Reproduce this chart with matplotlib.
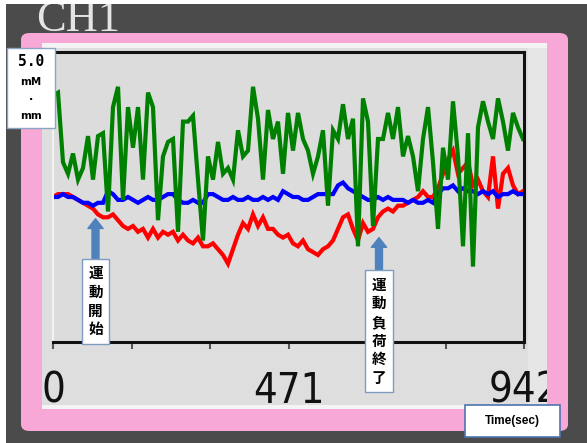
import numpy as np
import matplotlib
matplotlib.use("Agg")
import matplotlib.pyplot as plt
from matplotlib.patches import Rectangle, FancyBboxPatch
from matplotlib import font_manager as fm

# ---------------- data ----------------
time_sec = np.arange(0, 950, 10)

green_vals = [3.5, 3.6, 1.2, 0.8, 1.5, 0.6, 1.0, 2.1, 0.6, 2.1,
              2.2, -0.5, 3.1, 3.8, -0.1, 3.1, 1.7, 3.1, 0.6, 3.6,
              3.1, -0.8, 1.4, 1.9, 2.0, -1.2, 2.6, 2.6, 2.8, 0.6,
              -1.5, 1.4, 0.6, 1.9, 0.8, 1.0, 0.6, 2.3, 1.4, 1.6,
              3.8, 2.7, 0.6, 3.0, 2.0, 2.6, 0.8, 2.9, 1.6, 2.9,
              2.0, 1.6, 0.8, 1.4, 2.3, -0.3, 2.3, 2.0, 3.2, 2.0,
              2.7, -1.7, 3.4, 2.6, -1.0, 2.0, 2.0, 2.9, 2.0, 3.1,
              1.4, 2.1, 1.4, 0.2, 2.0, 3.1, 1.2, -1.1, 1.7, 0.6,
              3.3, 1.4, -1.7, 2.2, -2.4, 2.4, 3.3, 2.6, 2.0, 3.4,
              2.6, 1.6, 2.9, 2.4, 2.0]

red_vals = [0.0, 0.1, 0.1, 0.1, 0.0, -0.1, -0.2, -0.3, -0.4, -0.6,
            -0.7, -0.7, -0.6, -0.8, -1.0, -1.1, -1.0, -1.2, -1.1, -1.4,
            -1.1, -1.4, -1.2, -1.3, -1.2, -1.5, -1.3, -1.5, -1.6, -1.4,
            -1.7, -1.7, -1.6, -1.8, -2.0, -2.3, -1.8, -1.3, -0.9, -1.1,
            -0.6, -1.0, -0.7, -1.1, -1.1, -1.3, -1.4, -1.3, -1.6, -1.7,
            -1.5, -1.8, -1.9, -2.0, -1.8, -1.7, -1.5, -1.1, -0.7, -0.6,
            -1.1, -1.5, -0.9, -1.2, -1.1, -0.7, -0.5, -0.4, -0.5, -0.3,
            -0.3, -0.2, -0.1, 0.0, 0.2, 0.0, 0.0, 0.3, 0.8, 1.3,
            1.6, 0.8, 1.0, 1.2, 0.4, 0.6, 0.2, 0.0, 1.4, -0.4,
            0.8, 1.0, 0.4, 0.1, 0.2]

blue_vals = [0.0, 0.0, 0.1, 0.0, 0.0, -0.1, -0.2, -0.2, -0.3, -0.2,
             -0.2, 0.2, 0.1, -0.1, -0.1, 0.0, -0.1, -0.2, -0.1, 0.0,
             -0.1, -0.1, 0.0, 0.1, 0.1, -0.1, -0.2, -0.2, -0.1, -0.2,
             -0.2, 0.1, 0.1, 0.0, -0.1, -0.1, 0.0, -0.1, -0.1, 0.0,
             -0.1, -0.1, 0.0, -0.1, 0.0, -0.1, 0.2, 0.1, 0.0, 0.0,
             -0.1, -0.1, 0.0, 0.1, 0.1, 0.1, 0.1, 0.4, 0.5, 0.3,
             0.2, 0.1, 0.0, -0.1, -0.1, 0.0, -0.1, 0.0, -0.1, -0.1,
             -0.1, -0.2, -0.1, -0.2, -0.2, -0.1, -0.2, 0.1, 0.3, 0.3,
             0.4, 0.2, 0.3, 0.2, 0.2, 0.1, 0.2, 0.1, 0.2, 0.0,
             0.1, 0.1, 0.2, 0.1, 0.1]

xtick_pos = [0, 157, 314, 471, 628, 785, 942]
xtick_labels = ["0", "", "", "471", "", "", "942"]

event_times = [85, 652]
event_labels = ["運動開始", "運動負荷終了"]

# ---------------- fonts ----------------
def has_condensed(family):
    try:
        p = fm.findfont(fm.FontProperties(family=family, stretch="condensed"),
                        fallback_to_default=False)
        return "ondensed" in p or "arrow" in p
    except Exception:
        return False


if has_condensed("DejaVu Sans"):
    tick_font = dict(family="DejaVu Sans", stretch="condensed", size=30)
elif has_condensed("Liberation Sans"):
    tick_font = dict(family="Liberation Sans", stretch="condensed", size=30)
else:
    tick_font = dict(family="Liberation Sans", stretch="normal", size=27)

# ---------------- figure ----------------
W, H = 587, 443
fig = plt.figure(figsize=(W / 100, H / 100), dpi=100)
fig.patch.set_facecolor("#4b4b4b")


def fx(x):
    return x / W


def fy(y):
    return 1 - y / H


def frect(x0, y0, x1, y1, **kw):
    r = Rectangle((fx(x0), fy(y1)), (x1 - x0) / W, (y1 - y0) / H,
                  transform=fig.transFigure, **kw)
    fig.add_artist(r)
    return r


# CH1 label (top clipped by white margin)
fig.text(fx(36), fy(31), "CH1", ha="left", va="baseline", color="#e4e4e4",
         fontsize=32, family=["Liberation Serif", "DejaVu Serif"], zorder=5)

# white margins top / left
frect(0, 0, W, 4, fc="white", ec="none", zorder=10)
frect(0, 0, 6, H, fc="white", ec="none", zorder=10)

# pink frame
pink = "#f7a8d6"
fb = FancyBboxPatch((fx(21), fy(431)), (568 - 21) / W, (431 - 33) / H,
                    boxstyle="round,pad=0,rounding_size=0.015",
                    transform=fig.transFigure, fc=pink, ec="none", zorder=-3)
fig.add_artist(fb)
# gray panel
frect(42, 43, 547, 409, fc="#dedede", ec="none", zorder=-2)
frect(42, 43, 547, 48, fc="#f4f4f4", ec="none", zorder=-1)
frect(42, 405, 547, 409, fc="#f4f4f4", ec="none", zorder=-1)
frect(528, 48, 547, 405, fc="#e6e6e6", ec="none", zorder=-1)
# pink strip on the right drawn above axes (clips the "942" label)
frect(547, 40, 568, 425, fc=pink, ec="none", zorder=3)

# ---------------- axes ----------------
ax = fig.add_axes([fx(53), fy(342), (524 - 53) / W, (342 - 52) / H])
ax.set_facecolor("#dcdcdc")
ax.plot(time_sec, red_vals, color="#ff0000", lw=3.0, solid_joinstyle="miter")
ax.plot(time_sec, blue_vals, color="#0000ff", lw=3.0, solid_joinstyle="miter")
ax.plot(time_sec, green_vals, color="#008000", lw=3.0, solid_joinstyle="miter")
ax.set_xlim(0, 942)
ax.set_ylim(-5, 5)
ax.set_yticks([])
ax.set_xticks(xtick_pos)
ax.set_xticklabels(xtick_labels)
ax.tick_params(axis="x", direction="out", length=5, width=1.5, color="#555555",
               pad=15, labelcolor="#111111")
for lab in ax.get_xticklabels():
    lab.set_family(tick_font["family"])
    lab.set_fontstretch(tick_font["stretch"])
    lab.set_fontsize(tick_font["size"])
for s in ["top", "right", "bottom"]:
    ax.spines[s].set_color("#111111")
    ax.spines[s].set_linewidth(2.2)
ax.spines["left"].set_color("#f2f2f2")
ax.spines["left"].set_linewidth(1.5)

# event arrows and vertical labels
arrow_tip = [-0.75, -1.4]
arrow_tail = [-2.2, -2.6]
for t, lab, tip, tail in zip(event_times, event_labels, arrow_tip, arrow_tail):
    ax.annotate("", xy=(t, tip), xytext=(t, tail), annotation_clip=False,
                arrowprops=dict(arrowstyle="simple,head_width=1.1,head_length=0.7,tail_width=0.5",
                                fc="#4f81bd", ec="#4f81bd", shrinkA=0, shrinkB=0,
                                mutation_scale=10))
    ax.text(t, tail - 0.15, "\n".join(lab), ha="center", va="top", fontsize=10.5,
            fontweight="bold", linespacing=1.2, clip_on=False, zorder=6,
            family=["Noto Sans CJK JP", "DejaVu Sans"],
            bbox=dict(boxstyle="square,pad=0.45", fc="white", ec="#7f9cc0", lw=1))

# scale box
frect(7, 48, 55, 128, fc="white", ec="#8ea4c4", lw=1, zorder=8)
fig.text(fx(31), fy(62), "5.0", ha="center", va="center", fontsize=10.5,
         fontweight="bold", family="DejaVu Sans Mono", zorder=9)
fig.text(fx(31), fy(82), "mM", ha="center", va="center", fontsize=7.5,
         fontweight="bold", family="DejaVu Sans", zorder=9)
fig.text(fx(31), fy(97), ".", ha="center", va="center", fontsize=8,
         fontweight="bold", family="DejaVu Sans", zorder=9)
fig.text(fx(31), fy(116), "mm", ha="center", va="center", fontsize=7.5,
         fontweight="bold", family="DejaVu Sans", zorder=9)

# Time(sec) box
frect(465, 405, 560, 437, fc="white", ec="#4f74b0", lw=1.2, zorder=8)
fig.text(fx(512), fy(421), "Time(sec)", ha="center", va="center", fontsize=8.5,
         fontweight="bold", family="Liberation Sans", zorder=9)

fig.savefig("out.png", dpi=100, facecolor=fig.get_facecolor())
